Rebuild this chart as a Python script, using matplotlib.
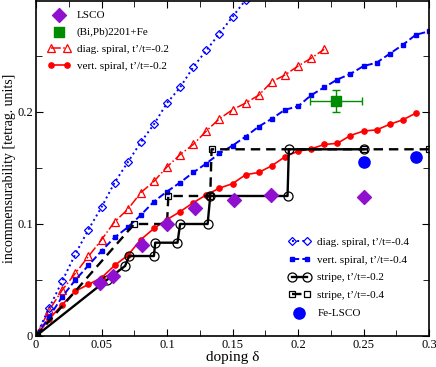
import matplotlib
matplotlib.use("Agg")
import matplotlib.pyplot as plt
from matplotlib.ticker import MultipleLocator, FormatStrFormatter
import numpy as np

plt.rcParams['font.family'] = ['Liberation Serif', 'DejaVu Serif']
plt.rcParams['mathtext.fontset'] = 'stix'

# Diagonal spiral, t'/t = -0.4
diag04_d = [0.0, 0.01, 0.02, 0.03, 0.04, 0.05, 0.06, 0.07, 0.08, 0.09, 0.10,
            0.11, 0.12, 0.13, 0.14, 0.15, 0.16]
diag04_q = [0.0, 0.025, 0.049, 0.073, 0.095, 0.115, 0.137, 0.155, 0.173, 0.189,
            0.208, 0.222, 0.240, 0.255, 0.270, 0.285, 0.300]

# Vertical spiral, t'/t = -0.4
vert04_d = [0.0, 0.01, 0.02, 0.03, 0.04, 0.05, 0.06, 0.07, 0.08, 0.09, 0.10,
            0.11, 0.12, 0.13, 0.14, 0.15, 0.16, 0.17, 0.18, 0.19, 0.20,
            0.21, 0.22, 0.23, 0.24, 0.25, 0.26, 0.27, 0.28, 0.29, 0.30]
vert04_q = [0.0, 0.017, 0.035, 0.050, 0.063, 0.076, 0.088, 0.097, 0.108, 0.120,
            0.129, 0.137, 0.146, 0.154, 0.163, 0.170, 0.178, 0.187, 0.194,
            0.202, 0.205, 0.215, 0.222, 0.229, 0.234, 0.241, 0.244, 0.252,
            0.260, 0.269, 0.272]

# Diagonal spiral, t'/t = -0.2
diag02_d = [0.0, 0.01, 0.02, 0.03, 0.04, 0.05, 0.06, 0.07, 0.08, 0.09, 0.10,
            0.11, 0.12, 0.13, 0.14, 0.15, 0.16, 0.17, 0.18, 0.19, 0.20,
            0.21, 0.22]
diag02_q = [0.0, 0.023, 0.041, 0.056, 0.071, 0.086, 0.102, 0.113, 0.128, 0.138,
            0.151, 0.162, 0.171, 0.183, 0.194, 0.202, 0.208, 0.215, 0.227,
            0.233, 0.241, 0.248, 0.256]

# Vertical spiral, t'/t = -0.2
vert02_d = [0.0, 0.01, 0.02, 0.03, 0.04, 0.05, 0.06, 0.07, 0.08, 0.09, 0.10,
            0.11, 0.12, 0.13, 0.14, 0.15, 0.16, 0.17, 0.18, 0.19, 0.20,
            0.21, 0.22, 0.23, 0.24, 0.25, 0.26, 0.27, 0.28, 0.29]
vert02_q = [0.0, 0.015, 0.028, 0.040, 0.046, 0.052, 0.063, 0.072, 0.086, 0.096,
            0.104, 0.111, 0.119, 0.126, 0.132, 0.136, 0.144, 0.146, 0.152,
            0.160, 0.165, 0.167, 0.171, 0.172, 0.179, 0.183, 0.184, 0.189,
            0.193, 0.199]

# Stripes
stripe02_d = [0.0, 0.054, 0.068, 0.071, 0.090, 0.091, 0.108, 0.110, 0.131,
              0.133, 0.192, 0.193, 0.250]
stripe02_q = [0.0, 0.050, 0.0625, 0.0714, 0.0714, 0.0833, 0.0833, 0.100, 0.100,
              0.125, 0.125, 0.1667, 0.1667]
stripe04_d = [0.0, 0.075, 0.100, 0.101, 0.133, 0.134, 0.250, 0.300]
stripe04_q = [0.0, 0.100, 0.100, 0.125, 0.125, 0.1667, 0.1667, 0.1667]

# Experiments
lsco_d = [0.049, 0.059, 0.081, 0.100, 0.121, 0.151, 0.179, 0.250]
lsco_q = [0.047, 0.054, 0.081, 0.100, 0.114, 0.121, 0.126, 0.124]
felsco_d = [0.25, 0.29]
felsco_q = [0.155, 0.160]
bipb_d = [0.229]
bipb_q = [0.210]
bipb_derr = [0.020]
bipb_qerr = [0.010]

fig = plt.figure(figsize=(4.36, 3.67), dpi=100)
ax = fig.add_axes([0.0826, 0.0845, 0.9014, 0.9125])

lsco = ax.scatter(lsco_d, lsco_q, marker='D', s=50, color='#9010d0', zorder=5,
                  label='LSCO')
ax.errorbar(bipb_d, bipb_q, xerr=bipb_derr, yerr=bipb_qerr, fmt='none',
            ecolor='#008c00', elinewidth=1, capsize=3, zorder=5)
bipb = ax.scatter(bipb_d, bipb_q, marker='s', s=45, color='#008c00', zorder=6,
                  label='(Bi,Pb)2201+Fe')
d02, = ax.plot(diag02_d, diag02_q, color='red', linestyle='-.', lw=1.1,
               marker='^', ms=6, mfc='none', mew=0.9, label="diag. spiral, t’/t=-0.2")
v02, = ax.plot(vert02_d, vert02_q, color='red', linestyle='-', lw=1.2,
               marker='o', ms=3.8, label="vert. spiral, t’/t=-0.2")
d04, = ax.plot(diag04_d, diag04_q, color='blue', linestyle=':', lw=1.4,
               marker='D', ms=4.2, mfc='none', mew=0.9, label="diag. spiral, t’/t=-0.4")
v04, = ax.plot(vert04_d, vert04_q, color='blue', linestyle='--', lw=1.4,
               marker='s', ms=3.3, label="vert. spiral, t’/t=-0.4")
s02, = ax.plot(stripe02_d, stripe02_q, color='black', linestyle='-', lw=1.7,
               marker='o', ms=6.5, mfc='none', mew=0.9, label="stripe, t’/t=-0.2")
s04, = ax.plot(stripe04_d, stripe04_q, color='black', linestyle='--', lw=1.7,
               dashes=(4, 2.5), marker='s', ms=5, mfc='none', mew=0.9,
               label="stripe, t’/t=-0.4")
fe = ax.scatter(felsco_d, felsco_q, marker='o', s=65, color='blue', zorder=5,
                label='Fe-LSCO')

ax.set_xlim(0, 0.3)
ax.set_ylim(0, 0.299)
ax.xaxis.set_major_locator(MultipleLocator(0.05))
ax.xaxis.set_minor_locator(MultipleLocator(0.025))
ax.yaxis.set_major_locator(MultipleLocator(0.1))
ax.yaxis.set_minor_locator(MultipleLocator(0.05))
ax.xaxis.set_major_formatter(FormatStrFormatter('%g'))
ax.yaxis.set_major_formatter(FormatStrFormatter('%g'))
ax.tick_params(which='both', direction='in', top=True, right=True,
               labelsize=9, pad=2)
ax.tick_params(which='major', length=5)
ax.tick_params(which='minor', length=4)
for s in ax.spines.values():
    s.set_linewidth(1.2)

ax.set_xlabel('doping δ', fontsize=11, labelpad=0)
ax.set_ylabel('incommensurability [tetrag. units]', fontsize=10, labelpad=1)

leg1 = ax.legend(handles=[lsco, bipb, d02, v02], loc='upper left',
                 frameon=False, fontsize=8, scatterpoints=1, numpoints=2,
                 handlelength=2.0, handletextpad=0.6, labelspacing=0.62,
                 borderaxespad=0.3, bbox_to_anchor=(0.01, 0.995))
ax.add_artist(leg1)
ax.legend(handles=[d04, v04, s02, s04, fe],
          loc='lower right', frameon=False, fontsize=8, scatterpoints=1,
          numpoints=2, handlelength=2.0, handletextpad=0.6, labelspacing=0.72,
          bbox_to_anchor=(0.975, 0.024))

fig.savefig('out.png', dpi=100)
